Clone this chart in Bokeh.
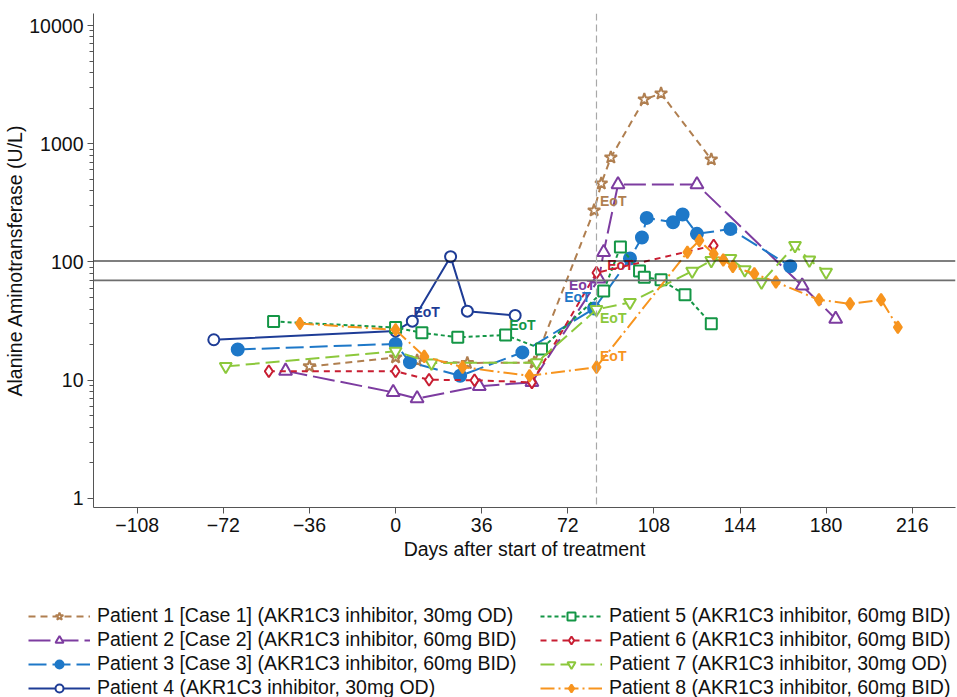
from bokeh.plotting import figure
from bokeh.models import Span, Legend, LegendItem, FixedTicker, Range1d, ColumnDataSource
from bokeh.core.properties import value
from bokeh.embed import file_html
from bokeh.resources import INLINE

# ---------------- data ----------------
p1_day = [-36, 0, 9, 30, 58, 83, 86, 90, 104, 111, 132]
p1_alt = [13.1, 15.6, 14.7, 14.0, 14.1, 273, 461, 765, 2367, 2660, 736]
p2_day = [-46, -1, 9, 35, 57, 85, 87, 93, 126, 170, 184]
p2_alt = [12.0, 7.9, 7.0, 8.9, 9.6, 72, 121, 452, 452, 63, 33]
p3_day = [-66, 0, 6, 27, 53, 83, 98, 103, 105, 116, 120, 126, 140, 165]
p3_alt = [18.2, 20.3, 14.2, 10.9, 17.2, 40.4, 107, 161, 236, 217, 252, 173, 190, 92]
p4_day = [-76, 0, 7, 23, 30, 50]
p4_alt = [22.0, 26.1, 31.6, 111, 38.4, 35.3]
p5_day = [-51, 0, 11, 26, 46, 61, 87, 94, 102, 104, 111, 121, 132]
p5_alt = [31.4, 27.9, 25.2, 23.1, 24.1, 18.4, 56.9, 134, 84, 74.4, 70.7, 52.8, 30.0]
p6_day = [-53, 0, 14, 33, 57, 84, 133]
p6_alt = [11.9, 11.9, 10.1, 10.0, 9.6, 81, 138]
p7_day = [-71, 0, 15, 59, 84, 98, 124, 132, 140, 146, 153, 167, 173, 180]
p7_alt = [13.1, 17.6, 14.0, 14.1, 39.7, 45.5, 83.6, 103, 107, 85.9, 67.5, 138, 104, 82]
p8_day = [-40, 0, 12, 28, 56, 84, 122, 127, 133, 137, 141, 150, 159, 177, 190, 203, 210]
p8_alt = [30.2, 26.7, 15.9, 12.9, 10.9, 12.9, 121, 152, 117, 104, 91.6, 79.5, 67.7,
          47.9, 44.3, 47.9, 28.1]

labels = [
    "Patient 1 [Case 1] (AKR1C3 inhibitor, 30mg OD)",
    "Patient 2 [Case 2] (AKR1C3 inhibitor, 60mg BID)",
    "Patient 3 [Case 3] (AKR1C3 inhibitor, 60mg BID)",
    "Patient 4 (AKR1C3 inhibitor, 30mg OD)",
    "Patient 5 (AKR1C3 inhibitor, 60mg BID)",
    "Patient 6 (AKR1C3 inhibitor, 60mg BID)",
    "Patient 7 (AKR1C3 inhibitor, 30mg OD)",
    "Patient 8 (AKR1C3 inhibitor, 60mg BID)",
]

# end-of-treatment labels (one per patient)
eot_day = [91, 78, 76, 13, 53, 94, 91, 91]
eot_alt = [331, 64.5, 51, 38, 29.6, 95, 33.3, 15.9]

upper_limits = [102, 70]
eot_marker_day = 84

x_ticks = [-108, -72, -36, 0, 36, 72, 108, 144, 180, 216]
x_tick_labels = ["\u2212108", "\u221272", "\u221236", "0", "36", "72", "108", "144", "180", "216"]
y_ticks = [1, 10, 100, 1000, 10000]
y_tick_labels = ["1", "10", "100", "1000", "10000"]

# ---------------- styles ----------------
colors = ["#B07F50", "#7D3CA0", "#1E78C8", "#1E3C96", "#149646", "#C81E32", "#8CC83C", "#F7941E"]
dashes = ["7 5", "22 6", "18 6", "solid", "4 3", "6 5", "14 6", "14 4 2 4"]
markers = ["star", "triangle", "circle", "circle", "square", "diamond", "inverted_triangle", "diamond"]
filled = [False, False, True, False, False, False, False, True]
sizes = [13, 13, 12, 11, 11, 12, 12, 12]

series = [(p1_day, p1_alt), (p2_day, p2_alt), (p3_day, p3_alt), (p4_day, p4_alt),
          (p5_day, p5_alt), (p6_day, p6_alt), (p7_day, p7_alt), (p8_day, p8_alt)]

FONT = "Liberation Sans"
W = 957

p = figure(width=W, height=565, x_range=Range1d(-126.3, 234.1), y_range=Range1d(0.839, 12635),
           y_axis_type="log", output_backend="svg", toolbar_location=None,
           min_border_left=93, min_border_right=2, min_border_top=13, min_border_bottom=58)
p.outline_line_color = None
p.xgrid.visible = False
p.ygrid.visible = False

# reference lines
p.add_layout(Span(location=upper_limits[0], dimension="width", line_color="black", line_width=1.2))
p.add_layout(Span(location=upper_limits[1], dimension="width", line_color="#6E6E6E", line_width=1.8))
p.add_layout(Span(location=eot_marker_day, dimension="height", line_color="#A8A8A8",
                  line_width=1.2, line_dash="7 4"))


def draw(fig, i, d, a):
    src = ColumnDataSource(dict(day=d, alt=a))
    ln = fig.line("day", "alt", source=src, line_color=colors[i], line_width=2, line_dash=dashes[i])
    sc = fig.scatter("day", "alt", source=src, marker=markers[i], size=sizes[i],
                     line_color=colors[i], line_width=2,
                     fill_color=colors[i] if filled[i] else "white")
    return ln, sc


for i, (d, a) in enumerate(series):
    draw(p, i, d, a)

# EoT labels
p.text(x=eot_day, y=eot_alt, text=["EoT"] * 8, text_color=colors,
       text_font=value(FONT), text_font_style="bold", text_font_size="14px",
       text_align="center", text_baseline="middle")

# axes
for ax in (p.xaxis[0], p.yaxis[0]):
    ax.axis_line_color = "#555555"
    ax.major_tick_line_color = "#555555"
    ax.minor_tick_line_color = "#555555"
    ax.major_tick_out = 6
    ax.major_tick_in = 0
    ax.major_label_text_font = FONT
    ax.major_label_text_font_size = "19.5px"
    ax.major_label_text_color = "#111111"
    ax.axis_label_text_font = FONT
    ax.axis_label_text_font_size = "19.5px"
    ax.axis_label_text_font_style = "normal"
    ax.axis_label_text_color = "#111111"

p.xaxis.ticker = FixedTicker(ticks=x_ticks, minor_ticks=[])
p.xaxis.major_label_overrides = dict(zip(x_ticks, x_tick_labels))
p.xaxis.axis_label = "Days after start of treatment"
p.xaxis.major_label_standoff = 4
p.xaxis.axis_label_standoff = 3

minor = [m * 10 ** k for k in range(0, 4) for m in range(2, 10)]
p.yaxis.ticker = FixedTicker(ticks=y_ticks, minor_ticks=minor)
p.yaxis.major_label_overrides = dict(zip(y_ticks, y_tick_labels))
p.yaxis.axis_label = "Alanine Aminotransferase (U/L)"
p.yaxis.major_label_standoff = 4
p.yaxis.axis_label_standoff = 0
p.yaxis.minor_tick_out = 4
p.yaxis.minor_tick_in = 0

# ---------------- legend figure (separate root, so its frame starts at x=0) ----------------
lg = figure(width=W, height=132, x_range=Range1d(1000, 1001), y_range=Range1d(1000, 1001),
            output_backend="svg", toolbar_location=None,
            x_axis_location=None, y_axis_location=None,
            min_border_left=0, min_border_right=0, min_border_top=0, min_border_bottom=0)
lg.grid.visible = False
lg.outline_line_color = None

items = []
for i, (d, a) in enumerate(series):
    ln, sc = draw(lg, i, d, a)
    items.append(LegendItem(label=labels[i], renderers=[ln, sc]))

legend = Legend(items=items, location=(28, -2), orientation="vertical", ncols=2,
                glyph_width=62, glyph_height=20, label_height=20, label_width=442,
                spacing=1, padding=0, margin=0, label_standoff=7,
                border_line_color=None, background_fill_alpha=0,
                label_text_font=FONT, label_text_font_size="19.5px", label_text_color="#111111")
lg.add_layout(legend)

open("out.html", "w").write(file_html([p, lg], INLINE))
